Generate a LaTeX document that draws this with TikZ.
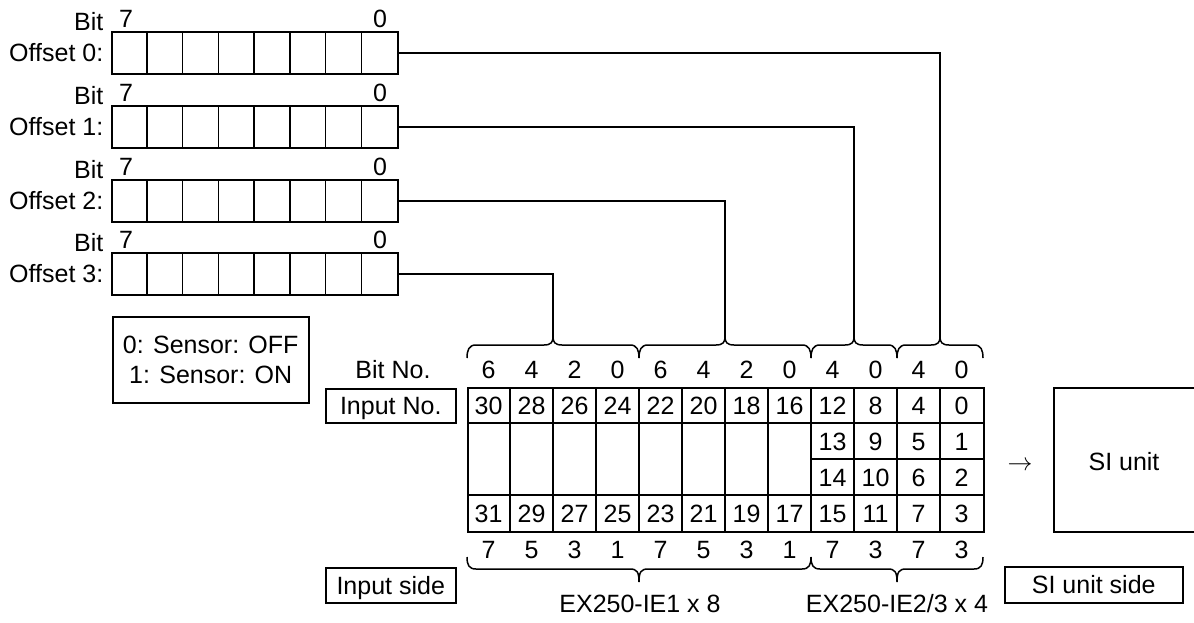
\documentclass[tikz,border=0pt]{standalone}
\usepackage{fontspec}
\setmainfont{Liberation Sans}
\begin{document}
\begin{tikzpicture}[x=1pt,y=-1pt,line width=1.5pt,
  every node/.style={font=\fontsize{25}{30}\selectfont,inner sep=0pt},
  txt/.style={text height=18pt,text depth=0pt},
  lbox/.style={draw,text height=18pt,text depth=0pt,anchor=north west},
  brc/.style={line width=1.5pt}]
\useasboundingbox (0,0) rectangle (1194,622);
\clip (0,0) rectangle (1194,622);

% offset registers
\foreach \k/\t in {0/31,1/105,2/179,3/252}{
  \node[draw,minimum width=286pt,minimum height=42pt,anchor=north west] (off\k) at (111,\t) {};
  \foreach \i in {1,...,7} \draw (111+35.75*\i,\t) -- (111+35.75*\i,\t+42);
  \node[txt,anchor=east] (bit\k) at (104,\t-9.5) {Bit};
  \node[txt] (hi\k) at (126,\t-13) {7};
  \node[txt] (lo\k) at (380,\t-13) {0};
  \node[txt,anchor=east] (lab\k) at (104,\t+21) {Offset \k:};
}

% legend
\node[draw,minimum width=196pt,minimum height=86pt,anchor=north west,align=center,
  font=\fontsize{25}{30}\selectfont] (legend) at (112,316) {0: Sensor: OFF\\1: Sensor: ON};

% table
\node[draw,minimum width=516pt,minimum height=144pt,anchor=north west] (tbl) at (467,387) {};
\foreach \i in {1,...,11} \draw (467+43*\i,387) -- (467+43*\i,531);
\draw (tbl.west |- 0,423) -- (tbl.east |- 0,423);
\draw (tbl.west |- 0,495) -- (tbl.east |- 0,495);
\draw (811,459) -- (tbl.east |- 0,459);

\foreach \v [count=\i from 0] in {30,28,26,24,22,20,18,16,12,8,4,0}
  \node[txt] (r1c\i) at (488.5+43*\i,405) {\v};
\foreach \v [count=\i from 0] in {31,29,27,25,23,21,19,17,15,11,7,3}
  \node[txt] (r4c\i) at (488.5+43*\i,513) {\v};
\foreach \v [count=\i from 8] in {13,9,5,1}
  \node[txt] (r2c\i) at (488.5+43*\i,441) {\v};
\foreach \v [count=\i from 8] in {14,10,6,2}
  \node[txt] (r3c\i) at (488.5+43*\i,477) {\v};
\foreach \v [count=\i from 0] in {6,4,2,0,6,4,2,0,4,0,4,0}
  \node[txt] (bt\i) at (488.5+43*\i,369.5) {\v};
\foreach \v [count=\i from 0] in {7,5,3,1,7,5,3,1,7,3,7,3}
  \node[txt] (bb\i) at (488.5+43*\i,549) {\v};

% top braces
\foreach \a/\b/\n in {467/639/tip3,639/811/tip2,811/897/tip1,897/983/tip0}{
  \pgfmathsetmacro\m{(\a+\b)/2}
  \coordinate (\n) at (\m,337);
  \draw[brc] (\a,358) .. controls (\a,350) and (\a+2,345) .. (\a+9,345)
    -- (\m-9,345) .. controls (\m-2,345) and (\m,342) .. (\n)
    .. controls (\m,342) and (\m+2,345) .. (\m+9,345)
    -- (\b-9,345) .. controls (\b-2,345) and (\b,350) .. (\b,358);
}
% bottom braces
\foreach \a/\b/\n in {467/811/bl,811/983/br}{
  \pgfmathsetmacro\m{(\a+\b)/2}
  \coordinate (\n) at (\m,582);
  \draw[brc] (\a,557) .. controls (\a,565) and (\a+2,569) .. (\a+9,569)
    -- (\m-9,569) .. controls (\m-2,569) and (\m,572) .. (\n)
    .. controls (\m,572) and (\m+2,569) .. (\m+9,569)
    -- (\b-9,569) .. controls (\b-2,569) and (\b,565) .. (\b,557);
}

% connectors
\foreach \k in {0,1,2,3} \draw (off\k.east) -| (tip\k);

% labels
\node[txt] (bitno) at (393,369.5) {Bit No.};
\node[lbox,minimum width=130pt,minimum height=34pt] (inno) at (325,388) {Input No.};
\node[lbox,minimum width=130pt,minimum height=35pt] (inside) at (325,567) {Input side};
\node[txt] (ex1) at (640,603) {EX250-IE1 x 8};
\node[txt] (ex2) at (897,603) {EX250-IE2/3 x 4};

% SI unit
\node[draw,minimum width=160pt,minimum height=144pt,anchor=north west] (si) at (1053,387) {};
\node[txt] (silab) at (1124,461) {SI unit};
\node (arr) at (1020,466) {\fontsize{27}{30}\selectfont$\rightarrow$};
\node[lbox,minimum width=178pt,minimum height=36pt] (siside) at (1004,566) {SI unit side};
\end{tikzpicture}
\end{document}
